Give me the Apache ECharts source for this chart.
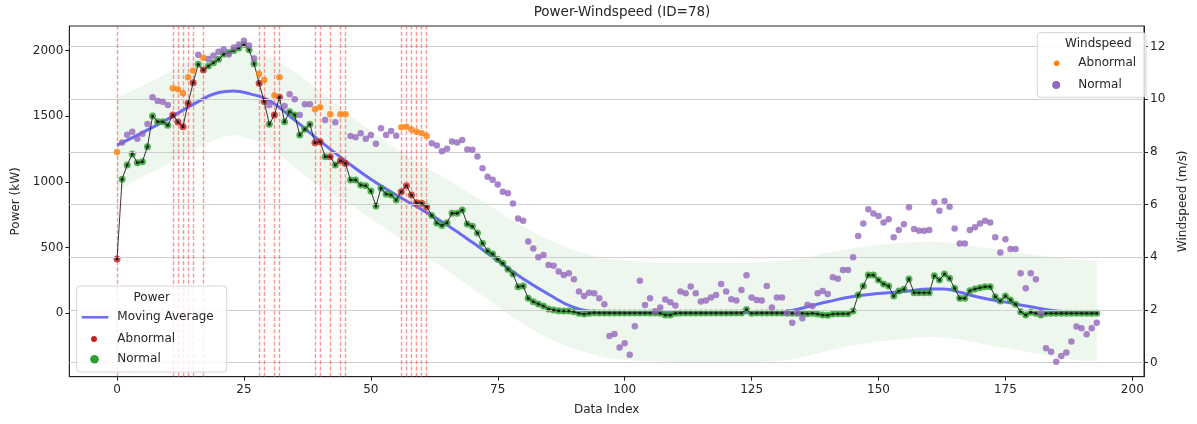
<!DOCTYPE html>
<html><head><meta charset="utf-8">
<script src="https://cdn.jsdelivr.net/npm/echarts@6/dist/echarts.min.js"></script>
<style>html,body{margin:0;padding:0;background:#fff}#c{width:1197px;height:424px}</style>
</head><body><div id="c"></div>
<script>
// ---------- data ----------
const power = [413,1020,1129,1212,1146,1154,1268,1502,1458,1458,
1431,1509,1456,1420,1598,1755,1895,1852,1882,1907,
1933,1971,1985,2000,2020,2045,2005,1900,1750,1611,
1438,1509,1644,1458,1534,1509,1357,1400,1438,1298,
1306,1192,1192,1129,1161,1141,1014,1014,976,971,
931,817,951,908,900,862,926,971,900,842,
837,811,745,688,668,690,761,761,786,680,
662,611,533,475,451,411,380,335,299,203,
208,114,88,71,56,33,25,20,17,17,
12,0,-5,0,5,3,3,3,3,3,
3,3,3,3,3,3,3,0,-12,-12,
0,2,2,2,2,2,2,2,2,2,
2,2,2,3,28,0,2,2,2,2,
2,2,2,0,0,0,-3,0,-5,-12,
-15,-5,-3,-3,-3,18,139,208,291,291,
253,223,208,132,170,183,261,157,157,157,
157,286,253,299,266,190,114,114,172,185,
195,203,203,126,94,132,101,68,12,-13,
8,0,-13,0,0,0,0,0,0,0,
0,0,0,0];
const windspeed = [8.0,8.36,8.66,8.77,8.50,8.69,9.06,10.08,9.94,9.91,
9.79,10.42,10.38,10.23,10.84,11.09,11.69,11.58,11.53,11.66,
11.81,11.90,11.70,11.97,12.08,12.23,12.05,11.55,10.96,10.74,
9.79,10.16,10.84,9.75,10.19,10.0,9.41,9.81,9.81,9.62,
9.70,9.22,9.43,9.13,9.43,9.43,8.61,8.56,8.71,8.50,
8.65,8.31,8.90,8.65,8.80,8.62,8.94,8.96,8.86,8.77,
8.71,8.61,8.33,8.25,8.03,8.12,8.40,8.36,8.46,8.10,
8.09,7.83,7.38,7.06,6.95,6.77,6.49,6.43,6.05,5.48,
5.39,4.60,4.34,4.00,4.09,3.71,3.68,3.46,3.33,3.40,
3.17,2.70,2.53,2.66,2.64,2.45,2.22,1.01,1.09,0.58,
0.74,0.30,1.38,3.11,2.19,2.45,1.95,2.10,2.40,2.30,
2.17,2.70,2.64,2.89,2.64,2.32,2.36,2.48,2.57,2.99,
2.70,2.41,2.36,2.76,3.32,2.48,2.38,2.36,2.91,2.10,
2.48,2.48,1.88,1.52,1.89,1.69,2.20,2.15,2.64,2.72,
2.61,3.24,3.19,3.52,3.52,4.00,4.81,5.29,5.83,5.67,
5.57,5.32,5.45,4.76,5.04,5.26,5.90,5.08,5.01,5.01,
5.04,6.09,5.77,6.14,5.92,5.10,4.53,4.53,5.04,5.14,
5.29,5.39,5.32,4.76,4.18,4.69,4.32,4.32,3.40,2.83,
3.40,3.17,1.88,0.55,0.42,0.04,0.25,0.39,0.80,1.37,
1.31,1.08,1.31,1.52];
const abnormalIdx = [0,11,12,13,14,15,17,28,29,31,32,39,40,42,44,45,56,57,58,59,60,61];
// moving average and its band, read at these indices
const maIdx     = [0,5,10,15,20,23,26,30,35,40,45,50,55,60,65,70,75,80,85,90,95,100,110,120,130,133,136,140,145,150,155,160,163,166,170,175,180,185,190,193];
const maValues  = [1280,1375,1478,1590,1680,1692,1672,1620,1470,1310,1160,1020,900,790,672,540,400,263,145,45,10,5,4,4,8,22,50,88,128,150,165,185,185,160,120,85,50,18,5,2];
const bandUpper = [1640,1730,1830,1940,2010,2030,2010,1950,1840,1690,1530,1390,1250,1130,1020,900,780,660,560,480,425,400,385,385,395,405,425,460,495,520,538,545,540,528,505,475,450,425,405,400];
const bandLower = [925,1040,1130,1240,1330,1355,1330,1270,1110,960,850,720,590,450,330,190,50,-80,-190,-270,-325,-355,-370,-372,-365,-350,-325,-285,-245,-215,-195,-180,-185,-200,-230,-265,-300,-335,-358,-365];
const xTicks = [0,25,50,75,100,125,150,175,200];
const powerTicks = [0,500,1000,1500,2000];
const windTicks = [0,2,4,6,8,10,12];

// ---------- build ----------
const abn = new Set(abnormalIdx);
const powerNormal = [], powerAbn = [], windNormal = [], windAbn = [];
power.forEach((v,i)=>{ (abn.has(i)?powerAbn:powerNormal).push([i,v]); });
windspeed.forEach((v,i)=>{ (abn.has(i)?windAbn:windNormal).push([i,v]); });

const FONT = 'DejaVu Sans';
const TXT = '#262626';
const chart = echarts.init(document.getElementById('c'), null, {renderer:'canvas'});

function txt(x,y,t,align){ return {type:'text', x:x, y:y, z:101,
  style:{text:t, font:'12px "DejaVu Sans"', fill:TXT, align:align||'left', verticalAlign:'middle', textAlign:align||'left', textVerticalAlign:'middle'}}; }
const plain = v => String(v);

const option = {
  animation:false,
  backgroundColor:'#fff',
  title:{text:'Power-Windspeed (ID=78)', left:622, top:5, padding:0, textAlign:'center',
    textStyle:{fontFamily:FONT, fontSize:13.5, fontWeight:'normal', color:TXT}},
  grid:{left:69.3, right:45.3, top:26, bottom:47.3, show:true, borderColor:'#222', borderWidth:1, backgroundColor:'transparent'},
  xAxis:{type:'value', min:-9.4, max:202.3,
    name:'Data Index', nameLocation:'middle', nameGap:27, nameTextStyle:{fontFamily:FONT, fontSize:12, color:TXT},
    axisLine:{show:true, onZero:false, lineStyle:{color:'#222', width:1}},
    axisTick:{show:true, length:4, customValues:xTicks, lineStyle:{color:'#222'}},
    axisLabel:{customValues:xTicks, formatter:plain, margin:7, fontFamily:FONT, fontSize:12, color:TXT},
    splitLine:{show:false}},
  yAxis:[
    {type:'value', min:-482.5, max:2186.5, position:'left',
      name:'Power (kW)', nameLocation:'middle', nameGap:46, nameTextStyle:{fontFamily:FONT, fontSize:12, color:TXT},
      axisLine:{show:true, onZero:false, lineStyle:{color:'#222'}},
      axisTick:{show:true, length:4, customValues:powerTicks, lineStyle:{color:'#222'}},
      axisLabel:{customValues:powerTicks, formatter:plain, margin:6, fontFamily:FONT, fontSize:12, color:TXT},
      splitLine:{show:false}},
    {type:'value', min:-0.532, max:12.786, position:'right',
      name:'Windspeed (m/s)', nameLocation:'middle', nameGap:33, nameRotate:90, nameTextStyle:{fontFamily:FONT, fontSize:12, color:TXT},
      axisLine:{show:true, onZero:false, lineStyle:{color:'#222'}},
      axisTick:{show:true, length:4, customValues:windTicks, lineStyle:{color:'#222'}},
      axisLabel:{customValues:windTicks, formatter:plain, margin:6, fontFamily:FONT, fontSize:12, color:TXT},
      splitLine:{show:false}}
  ],
  series:[
    {name:'grid', type:'line', yAxisIndex:1, data:[[0,windspeed[0]]], symbol:'none', lineStyle:{opacity:0}, silent:true, z:0,
      markLine:{silent:true, symbol:['none','none'], label:{show:false}, animation:false,
        lineStyle:{color:'#cfcfcf', width:1.2, type:'solid'},
        data: windTicks.map(v=>({yAxis:v}))}},
    {name:'band', type:'custom', data:[[maIdx[0], maValues[0]]], silent:true, z:1, clip:true,
      renderItem:function(params, api){
        const up = maIdx.map((x,i)=>api.coord([x,bandUpper[i]]));
        const lo = maIdx.map((x,i)=>api.coord([x,bandLower[i]])).reverse();
        // repeat the corner points so the ends stay square
        const pts = [up[0]].concat(up, [up[up.length-1], lo[0]], lo, [lo[lo.length-1]]);
        return {type:'polygon', shape:{points:pts, smooth:0.25},
          style:{fill:'rgba(60,170,60,0.09)', stroke:'none'}};
      }},
    {name:'vlines', type:'line', data:[[0,power[0]]], symbol:'none', lineStyle:{opacity:0}, silent:true, z:2,
      markLine:{silent:true, symbol:['none','none'], label:{show:false}, animation:false,
        lineStyle:{color:'rgba(245,70,70,0.55)', width:1.4, type:[4,2.2]},
        data: abnormalIdx.map(v=>({xAxis:v}))}},
    {name:'Moving Average', type:'line', data:maIdx.map((x,i)=>[x,maValues[i]]), smooth:0.45,
      symbol:'none', lineStyle:{color:'#6b6bf5', width:3}, z:3},
    {name:'Power Normal', type:'scatter', data:powerNormal, symbol:'circle', symbolSize:7, itemStyle:{color:'#2ca02c'}, z:4},
    {name:'Power Abnormal', type:'scatter', data:powerAbn, symbol:'circle', symbolSize:7, itemStyle:{color:'#c8201e'}, z:4},
    {name:'Power', type:'line', data:power.map((v,i)=>[i,v]), symbol:'circle', symbolSize:3, showSymbol:true,
      itemStyle:{color:'#1a1a1a'}, lineStyle:{color:'rgba(20,20,20,0.85)', width:1}, z:5},
    {name:'Wind Normal', type:'scatter', yAxisIndex:1, data:windNormal, symbol:'circle', symbolSize:6.5, itemStyle:{color:'#9467bd'}, z:6},
    {name:'Wind Abnormal', type:'scatter', yAxisIndex:1, data:windAbn, symbol:'circle', symbolSize:6.5, itemStyle:{color:'#ff7f0e'}, z:6}
  ],
  graphic:[
    {type:'rect', z:100, shape:{x:76.7, y:286, width:150, height:86, r:3}, style:{fill:'rgba(255,255,255,0.82)', stroke:'#d4d4d4', lineWidth:1}},
    txt(151.7,297.5,'Power','center'),
    {type:'line', z:101, shape:{x1:81.7, y1:317.3, x2:108.3, y2:317.3}, style:{stroke:'#6b6bf5', lineWidth:2.5}},
    txt(117.3,317.3,'Moving Average'),
    {type:'circle', z:101, shape:{cx:94, cy:339, r:3}, style:{fill:'#c8201e'}},
    txt(117.3,339,'Abnormal'),
    {type:'circle', z:101, shape:{cx:94.5, cy:359.3, r:4.3}, style:{fill:'#2ca02c'}},
    txt(117.3,359.3,'Normal'),
    {type:'rect', z:100, shape:{x:1037.3, y:32.7, width:108.7, height:64.6, r:3}, style:{fill:'rgba(255,255,255,0.82)', stroke:'#d4d4d4', lineWidth:1}},
    txt(1098.3,44,'Windspeed','center'),
    {type:'circle', z:101, shape:{cx:1056.7, cy:63.3, r:2.8}, style:{fill:'#ff7f0e'}},
    txt(1078.3,63.3,'Abnormal'),
    {type:'circle', z:101, shape:{cx:1056.2, cy:85, r:4}, style:{fill:'#9467bd'}},
    txt(1078.3,85,'Normal')
  ]
};
chart.setOption(option);
</script></body></html>
